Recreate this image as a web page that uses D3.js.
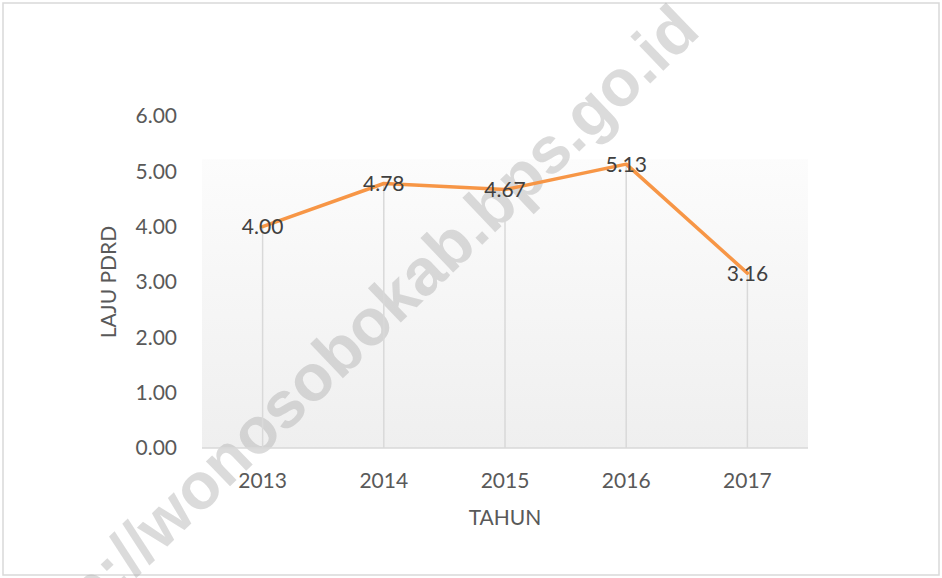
<!DOCTYPE html>
<html>
<head>
<meta charset="utf-8">
<script src="https://cdn.jsdelivr.net/npm/d3@7"></script>
<style>
  html, body { margin: 0; padding: 0; background: #fff; }
  svg { display: block; font-family: Lato, "Open Sans", sans-serif; }
</style>
</head>
<body>
<svg id="chart" width="942" height="578"></svg>
<script>
const years = ["2013", "2014", "2015", "2016", "2017"];
const laju = [4.00, 4.78, 4.67, 5.13, 3.16];
const yTicks = [0, 1, 2, 3, 4, 5, 6];
const yTitle = "LAJU PDRD";
const xTitle = "TAHUN";
const watermark = "http://wonosobokab.bps.go.id";

const svg = d3.select("#chart");
const W = 942, H = 578;
const plot = { left: 202, right: 808, top: 116, bottom: 448 };
const FS = 21;

const x = d3.scaleBand().domain(years).range([plot.left, plot.right]);
const y = d3.scaleLinear().domain([0, 6]).range([plot.bottom, plot.top]);
const cx = d => x(d) + x.bandwidth() / 2;

// outer border
svg.append("rect").attr("x", 3).attr("y", 3).attr("width", W - 6).attr("height", H - 6)
  .attr("fill", "#fff").attr("stroke", "#d9d9d9").attr("stroke-width", 1.5);

// gradient plot background
const defs = svg.append("defs");
const grad = defs.append("linearGradient").attr("id", "bg").attr("x1", 0).attr("y1", 0).attr("x2", 0).attr("y2", 1);
grad.append("stop").attr("offset", "0%").attr("stop-color", "#fcfcfc");
grad.append("stop").attr("offset", "100%").attr("stop-color", "#efefef");
svg.append("rect")
  .attr("x", plot.left).attr("y", y(5.22))
  .attr("width", plot.right - plot.left).attr("height", y(0) - y(5.22))
  .attr("fill", "url(#bg)");

// y axis labels
const yAxis = d3.axisLeft(y).tickValues(yTicks).tickFormat(d3.format(".2f")).tickSize(0).tickPadding(0);
const gy = svg.append("g").attr("transform", `translate(${plot.left - 25},0)`).call(yAxis);
gy.select(".domain").remove();
gy.selectAll("text").attr("font-size", FS).attr("fill", "#595959").attr("font-family", "Lato, sans-serif");

// x axis labels
const xAxis = d3.axisBottom(x).tickSize(0).tickPadding(0);
const gx = svg.append("g").attr("transform", `translate(0,${plot.bottom + 25})`).call(xAxis);
gx.select(".domain").remove();
gx.selectAll("text").attr("font-size", FS).attr("fill", "#595959").attr("font-family", "Lato, sans-serif");

// watermark
svg.append("text")
  .attr("transform", "translate(366,356) rotate(-43.8)")
  .attr("text-anchor", "middle")
  .attr("font-family", "'Liberation Sans', Arial, sans-serif")
  .attr("font-weight", "bold")
  .attr("font-size", 65.5)
  .attr("fill", "#b0b0b0")
  .attr("fill-opacity", 0.45)
  .text(watermark);

// drop lines
svg.append("g").selectAll("line").data(years).join("line")
  .attr("x1", d => cx(d)).attr("x2", d => cx(d))
  .attr("y1", (d, i) => y(laju[i])).attr("y2", y(0))
  .attr("stroke", "#d9d9d9").attr("stroke-width", 1.5);

// baseline
svg.append("line")
  .attr("x1", plot.left).attr("x2", plot.right)
  .attr("y1", y(0)).attr("y2", y(0))
  .attr("stroke", "#d9d9d9").attr("stroke-width", 1.5);

// line
const line = d3.line().x((d, i) => cx(years[i])).y(d => y(d));
svg.append("path").datum(laju)
  .attr("d", line)
  .attr("fill", "none")
  .attr("stroke", "#f79646")
  .attr("stroke-width", 3.5)
  .attr("stroke-linejoin", "round")
  .attr("stroke-linecap", "round");

// data labels
svg.append("g").selectAll("text").data(laju).join("text")
  .attr("x", (d, i) => cx(years[i]))
  .attr("y", d => y(d))
  .attr("dy", "0.36em")
  .attr("text-anchor", "middle")
  .attr("font-size", FS)
  .attr("fill", "#404040")
  .text(d => d3.format(".2f")(d));

// axis titles
svg.append("text")
  .attr("transform", `translate(116,${(y(0) + y(6)) / 2}) rotate(-90)`)
  .attr("text-anchor", "middle")
  .attr("font-size", FS)
  .attr("fill", "#595959")
  .text(yTitle);

svg.append("text")
  .attr("x", (plot.left + plot.right) / 2)
  .attr("y", 525)
  .attr("text-anchor", "middle")
  .attr("font-size", FS)
  .attr("fill", "#595959")
  .text(xTitle);
</script>
</body>
</html>
